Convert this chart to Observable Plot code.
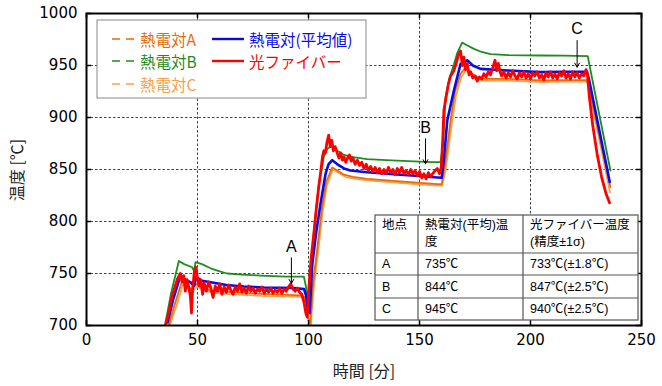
<!DOCTYPE html>
<html>
<head>
<meta charset="utf-8">
<script src="https://cdn.jsdelivr.net/npm/d3@7"></script>
<script src="https://cdn.jsdelivr.net/npm/@observablehq/plot@0.6"></script>
<style>
  html, body { margin: 0; padding: 0; background: #fff; overflow: hidden; }
  #chart { width: 662px; height: 386px; }
</style>
</head>
<body>
<div id="chart"></div>
<script>
// ---------------- data ----------------
const xTicks = [0, 50, 100, 150, 200, 250];
const yTicks = [700, 750, 800, 850, 900, 950, 1000];
const xGrid = [50, 100, 150, 200];
const yGrid = [750, 800, 850, 900, 950];

const seriesNames = ["熱電対A", "熱電対B", "熱電対C", "熱電対(平均値)", "光ファイバー"];
const seriesColors = ["#E46C0A", "#1E8C1E", "#F9A04A", "#0A0AE6", "#FF0000"];

// 熱電対B (green)
const timeB = [35.6, 38, 41.6, 44, 47.6, 48.5, 49.1, 52, 55.9, 60, 63.4, 70, 78.4, 90, 97.9, 98.8, 99.5,
  100.2, 102.4, 104.6, 106.9, 108.5, 110.7, 113, 116, 120, 126.4, 135, 145, 155, 159.5,
  160.5, 161.7, 163.5, 165.5, 167, 169.2, 171, 174.5, 178, 182, 190, 204.5, 215, 225.8, 226.6, 236];
const tempB = [703, 730, 762, 759, 756, 752, 761, 759, 755, 752, 750, 749, 748, 747, 747, 738, 726,
  735, 790, 835, 862, 870, 873, 868, 864, 862, 860, 859, 858, 857, 857,
  872, 919, 938, 951, 962, 972, 970, 966, 963, 961, 960, 959.6, 959.5, 959, 950, 849];

// 熱電対(平均値) (blue)
const timeAvg = [36.5, 39, 42.3, 44.5, 46.8, 48.4, 49.5, 52, 56, 63, 70.9, 80, 93.4, 98, 99, 99.8, 100.5,
  101.7, 103.5, 105.4, 107.7, 109, 110.7, 113, 116, 118.9, 126.4, 141.4, 151.8, 156.4, 160,
  161, 162.5, 165.5, 168.5, 171.5, 174, 177.5, 189.5, 204.5, 215, 225.5, 226.5, 235.7];
const tempAvg = [703, 725, 748, 744, 741.6, 738, 746.5, 743, 741.6, 739, 737.5, 736.5, 736, 735, 728, 715, 712,
  759, 790, 817, 846, 855, 859, 855, 851, 849, 847.4, 845, 843.5, 842.6, 842,
  860, 897, 926, 951.6, 955, 950, 946.8, 945.2, 943.6, 944, 944, 935, 838];

// 熱電対A (dark orange)
const timeA = [37, 40, 43.1, 45, 47.5, 49.5, 52, 56, 65, 78.4, 96.4, 98.5, 99.8, 100.8,
  102, 104, 106, 108, 110.7, 113, 116, 120, 126.4, 141.4, 158, 160,
  161.5, 164, 166, 168.5, 170.7, 173, 177.5, 189.5, 204.5, 215, 225.5, 226.7, 236];
const tempA = [700, 722, 743, 738, 735, 740, 736, 733.6, 732, 730.5, 729, 727, 708, 702,
  740, 775, 812, 838, 852, 849, 845, 843, 841, 838.5, 836, 836,
  855, 897, 925, 942, 948, 943, 937.2, 937.2, 935.6, 936, 936, 925, 833];

// 熱電対C (light orange)
const timeC = [37.5, 40.5, 43.5, 45.5, 48, 49.8, 52.5, 57, 66, 79, 96.6, 98.6, 99.9, 101,
  102.3, 104.3, 106.3, 108.3, 111, 113.5, 116.5, 121, 127, 142, 158.2, 160.2,
  161.8, 164.4, 166.4, 168.8, 171, 173.5, 178, 190, 205, 215, 225.6, 226.8, 235.8];
const tempC = [700, 719, 740, 736, 733, 738, 734, 731.5, 730, 728.5, 727.5, 725, 706, 700,
  735, 770, 808, 835, 850, 847, 843, 841, 839.5, 837, 834.5, 834.5,
  850, 892, 921, 939, 946, 941, 935.5, 935.5, 934, 934.5, 934.5, 923, 828];

// 光ファイバー (red)
const timeFiber = [35.5, 37, 38.5, 40, 41, 42.3, 43, 43.8, 44.5, 45.3, 46, 46.8, 47.3, 47.8, 48.6, 49.3, 50, 50.8, 51.5, 52.3,
  53, 54, 55, 56, 57, 58, 59, 60, 61, 62, 63, 64, 65, 66, 67, 68, 69, 70, 71, 72,
  73, 74, 75, 76, 77, 78, 79, 80, 81, 82, 83, 84, 85, 86, 87, 88, 89, 90, 91, 92,
  93, 94, 95, 96, 97, 98, 98.8, 99.4, 100.3, 101.2, 102.4, 103.5, 104.6, 105.5, 106.3, 106.9, 107.6, 108.3, 109.1, 109.8,
  110.5, 111.2, 112, 112.9, 113.7, 114.5, 115.3, 116, 116.8, 117.6, 118.4, 119.2, 120, 121, 122, 123, 124, 125, 126, 127,
  128, 129, 130, 131, 132, 133, 134, 135, 136, 137, 138, 139, 140, 141, 142, 143, 144, 145, 146, 147,
  148, 149, 150, 151, 152, 153, 154, 155, 156, 157, 158, 159, 159.8, 160.5, 161, 162, 163, 164, 165.5, 166.5,
  167.5, 168.5, 169.3, 170, 170.7, 171.5, 172.3, 173, 174, 175, 176, 177, 178, 179, 180, 181, 182, 183, 184, 184.8,
  185.5, 186.3, 187, 188, 189, 190, 191, 192, 193, 194, 195, 196, 197, 198, 199, 200, 201, 202, 203, 204,
  205, 206, 207, 208, 209, 210, 211, 212, 213, 214, 215, 216, 217, 218, 219, 220, 221, 222, 223, 224,
  225, 225.6, 226.5, 228, 230, 232, 234, 235.6];
const tempFiber = [700, 712, 728, 738, 745, 750, 742, 748, 733, 744, 738, 728, 712, 735, 752, 756, 745, 738, 744, 730,
  741, 733, 742, 736, 727, 738, 733, 740, 730, 737, 732, 739, 734, 730, 737, 733, 740, 732, 736, 731,
  738, 733, 736, 731, 735, 733, 737, 731, 735, 732, 736, 731, 734, 732, 736, 731, 735, 733, 737, 740,
  735, 733, 736, 732, 730, 722, 712, 708, 740, 765, 788, 812, 833, 848, 862, 868, 866, 876, 883, 872,
  878, 868, 872, 866, 861, 866, 859, 862, 857, 861, 864, 858, 861, 855, 859, 854, 857, 851, 855, 849,
  853, 848, 852, 847, 851, 846, 850, 846, 852, 847, 850, 845, 851, 847, 852, 846, 849, 845, 850, 846,
  849, 844, 848, 842, 846, 841, 847, 843, 846, 849, 851, 846, 852, 880, 907, 920, 932, 940, 945, 952,
  960, 964, 950, 958, 946, 952, 941, 944, 938, 940, 935, 939, 937, 942, 939, 944, 941, 948, 955, 945,
  952, 944, 940, 944, 938, 943, 939, 945, 940, 937, 943, 939, 944, 938, 942, 937, 943, 940, 944, 938,
  941, 936, 943, 939, 944, 938, 942, 937, 943, 940, 945, 938, 942, 937, 944, 939, 943, 938, 942, 940,
  946, 942, 920, 893, 865, 843, 827, 818];

// annotations
const annLabels = ["A", "B", "C"];
const annX = [92.3, 152.7, 221];
const annTextY = [776, 890, 985];
const annArrowTop = [765, 879.5, 974];
const annArrowTip = [740.4, 855.5, 948.4];

// table
const tableHeader1 = ["地点", "熱電対(平均)温", "光ファイバー温度"];
const tableHeader2 = ["", "度", "(精度±1σ)"];
const tablePoints = ["A", "B", "C"];
const tableAvg = ["735℃", "844℃", "945℃"];
const tableFiber = ["733℃(±1.8℃)", "847℃(±2.5℃)", "940℃(±2.5℃)"];

// ---------------- build ----------------
const toRows = (ts, vs) => ts.map((t, i) => ({t, v: vs[i]}));
const rowsA = toRows(timeA, tempA);
const rowsB = toRows(timeB, tempB);
const rowsC = toRows(timeC, tempC);
const rowsAvg = toRows(timeAvg, tempAvg);
const rowsFiber = toRows(timeFiber, tempFiber);
const annIdx = annLabels.map((_, i) => i);

const gridStyle = {stroke: "#444", strokeDasharray: "2.5,2", strokeWidth: 1};
const lineOpt = (color, w) => ({x: "t", y: "v", stroke: color, strokeWidth: w, strokeLinejoin: "round", clip: true});

const chart = Plot.plot({
  width: 662,
  height: 386,
  marginLeft: 86,
  marginRight: 21,
  marginTop: 13,
  marginBottom: 61,
  x: {domain: [0, 250]},
  y: {domain: [700, 1000]},
  style: {fontFamily: "'DejaVu Sans', 'Noto Sans CJK JP', sans-serif", fontSize: "15px", color: "#000", background: "#fff"},
  marks: [
    Plot.ruleX(xGrid, gridStyle),
    Plot.ruleY(yGrid, gridStyle),
    Plot.line(rowsC, lineOpt(seriesColors[2], 1.8)),
    Plot.line(rowsA, lineOpt(seriesColors[0], 1.8)),
    Plot.line(rowsB, lineOpt(seriesColors[1], 1.8)),
    Plot.line(rowsAvg, lineOpt(seriesColors[3], 2.6)),
    Plot.line(rowsFiber, lineOpt(seriesColors[4], 2.8)),
    Plot.arrow(annIdx, {x1: i => annX[i], y1: i => annArrowTop[i], x2: i => annX[i], y2: i => annArrowTip[i],
      stroke: "#000", strokeWidth: 1, headLength: 7, bend: 0}),
    Plot.text(annIdx, {x: i => annX[i], y: i => annTextY[i], text: i => annLabels[i],
      fontSize: 16, fontFamily: "'Liberation Sans', sans-serif", fill: "#000"}),
    // inward tick marks
    Plot.ruleX(xTicks, {y1: 700, y2: 704.8, stroke: "#000", strokeWidth: 1.5}),
    Plot.ruleX(xTicks, {y1: 1000, y2: 995.2, stroke: "#000", strokeWidth: 1.5}),
    Plot.ruleY(yTicks, {x1: 0, x2: 2.3, stroke: "#000", strokeWidth: 1.5}),
    Plot.ruleY(yTicks, {x1: 250, x2: 247.7, stroke: "#000", strokeWidth: 1.5}),
    Plot.frame({stroke: "#000", strokeWidth: 2}),
    Plot.axisX({ticks: xTicks, tickSize: 0, tickPadding: 9, label: null, tickFormat: d => String(d)}),
    Plot.axisY({ticks: yTicks, tickSize: 0, tickPadding: 9, label: null, tickFormat: d => String(d)})
  ]
});
document.getElementById("chart").appendChild(chart);

// ---------------- overlays (legend, table, axis titles) ----------------
const svg = d3.select(chart);
const jp = "'Noto Sans CJK JP', sans-serif";
const tbFont = "'Liberation Sans', 'Noto Sans CJK JP', sans-serif";

// axis titles
svg.append("text").attr("transform", "translate(16,170) rotate(-90)")
  .attr("text-anchor", "middle").attr("dominant-baseline", "central")
  .style("font-family", jp).style("font-size", "16px").attr("fill", "#222").text("温度 [℃]");
svg.append("text").attr("x", 364).attr("y", 370)
  .attr("text-anchor", "middle").attr("dominant-baseline", "central")
  .style("font-family", jp).style("font-size", "16px").attr("fill", "#222").text("時間 [分]");

// legend
const lg = svg.append("g").attr("text-anchor", "start");
lg.append("rect").attr("x", 97).attr("y", 20).attr("width", 269).attr("height", 78)
  .attr("fill", "#fff").attr("stroke", "#888").attr("stroke-width", 1);
const legendItems = [
  {i: 0, lx: 112, ty: 39, dashed: true},
  {i: 1, lx: 112, ty: 61, dashed: true},
  {i: 2, lx: 112, ty: 84, dashed: true},
  {i: 3, lx: 212, ty: 39, dashed: false},
  {i: 4, lx: 212, ty: 61, dashed: false}
];
legendItems.forEach(d => {
  const col = seriesColors[d.i];
  if (d.dashed) {
    lg.append("line").attr("x1", d.lx).attr("x2", d.lx + 22).attr("y1", d.ty).attr("y2", d.ty)
      .attr("stroke", col).attr("stroke-width", 1.6).attr("stroke-dasharray", "8,6");
  } else {
    lg.append("line").attr("x1", d.lx).attr("x2", d.lx + 32).attr("y1", d.ty).attr("y2", d.ty)
      .attr("stroke", col).attr("stroke-width", 2.4);
  }
  lg.append("text").attr("x", d.dashed ? 140 : 249).attr("y", d.ty)
    .attr("text-anchor", "start").attr("dominant-baseline", "central")
    .style("font-family", jp).style("font-size", "15.5px").attr("fill", col)
    .text(seriesNames[d.i]);
});

// table
const tb = svg.append("g").attr("text-anchor", "start");
const colX = [375, 418, 523, 638];
const rowY = [215, 253, 275, 298, 320];
tb.append("rect").attr("x", colX[0]).attr("y", rowY[0]).attr("width", colX[3] - colX[0]).attr("height", rowY[4] - rowY[0])
  .attr("fill", "#fff").attr("stroke", "#555").attr("stroke-width", 1.2);
[1, 2].forEach(c => tb.append("line").attr("x1", colX[c]).attr("x2", colX[c]).attr("y1", rowY[0]).attr("y2", rowY[4])
  .attr("stroke", "#555").attr("stroke-width", 1.2));
[1, 2, 3].forEach(r => tb.append("line").attr("x1", colX[0]).attr("x2", colX[3]).attr("y1", rowY[r]).attr("y2", rowY[r])
  .attr("stroke", "#555").attr("stroke-width", 1.2));
const padX = [7, 7, 7];
const cellText = (x, y, s) => tb.append("text").attr("x", x).attr("y", y)
  .attr("text-anchor", "start").attr("dominant-baseline", "central")
  .style("font-family", tbFont).style("font-size", "12.5px").attr("fill", "#000").text(s);
tableHeader1.forEach((s, c) => cellText(colX[c] + padX[c], 225, s));
tableHeader2.forEach((s, c) => cellText(colX[c] + padX[c], 242, s));
tablePoints.forEach((s, r) => {
  const cy = (rowY[r + 1] + rowY[r + 2]) / 2;
  cellText(colX[0] + padX[0], cy, s);
  cellText(colX[1] + padX[1], cy, tableAvg[r]);
  cellText(colX[2] + padX[2], cy, tableFiber[r]);
});
</script>
</body>
</html>
